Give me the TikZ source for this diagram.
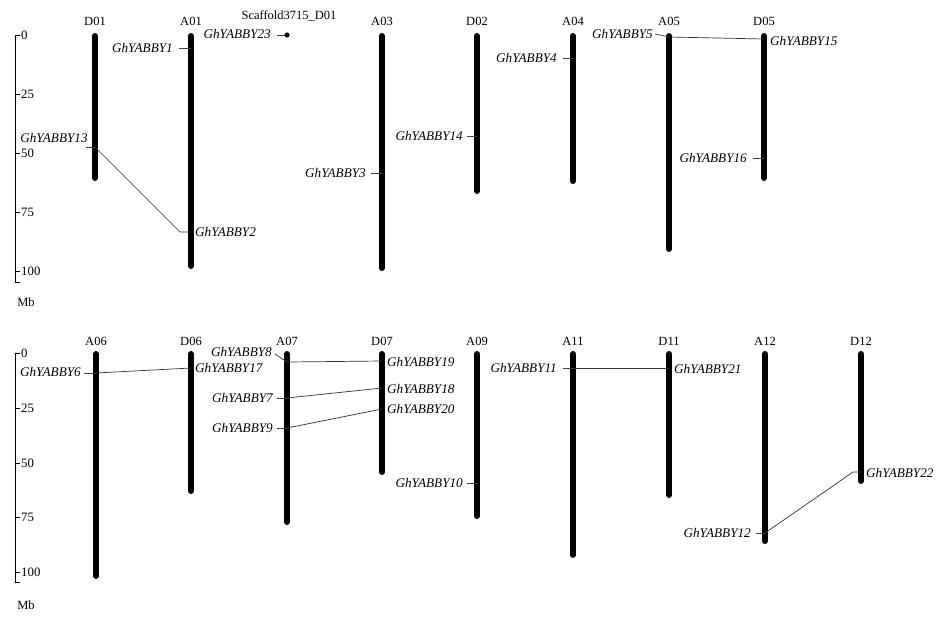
\documentclass[tikz,border=0pt]{standalone}
\usepackage{fontspec}
\setmainfont{Liberation Serif}
\begin{document}
\begin{tikzpicture}[x=1pt,y=-1pt,
  chr/.style={line width=6pt,line cap=round},
  chrlab/.style={font=\fontsize{12.5}{14}\selectfont,inner sep=0pt},
  glab/.style={font=\fontsize{13.2}{15}\selectfont\itshape,inner sep=0pt},
  tick/.style={line width=0.7pt,black!75},
  conn/.style={line width=0.7pt,black!80},
  axis/.style={line width=0.9pt},
  num/.style={font=\fontsize{12.8}{14}\selectfont,inner sep=0pt,anchor=west}]
\useasboundingbox (0,0) rectangle (940,618);
% ---------- axes ----------
\draw[axis] (20,35) -- (15,35) -- (15,282) -- (20,282);
\foreach \y/\t in {35/0,94/25,153/50,212/75,271/100}{
  \draw[axis] (15,\y) -- (20,\y);
  \node[num] at (21,\y) {\t};}
\node[chrlab] (mb1) at (26,302) {Mb};
\draw[axis] (20,353) -- (15,353) -- (15,582) -- (20,582);
\foreach \y/\t in {353/0,408/25,463/50,517/75,572/100}{
  \draw[axis] (15,\y) -- (20,\y);
  \node[num] at (21,\y) {\t};}
\node[chrlab] (mb2) at (26,605) {Mb};
% ---------- chromosomes, top ----------
\foreach \n/\x/\b in {D01/95/178,A01/191/266,A03/382/268,D02/477/191,A04/573/181,A05/669/249,D05/764/178}{
  \coordinate (\n-t) at (\x,36);
  \coordinate (\n-b) at (\x,\b);
  \draw[chr] (\n-t) -- (\n-b);
  \node[chrlab] (l\n) at (\x,21) {\n};}
% ---------- chromosomes, bottom ----------
\foreach \n/\x/\b in {A06/96/576,D06/191/491,A07/287/522,D07/382/472,A09/477/516,A11/573/555,D11/669/495,A12/765/541,D12/861/481}{
  \coordinate (\n-t) at (\x,354);
  \coordinate (\n-b) at (\x,\b);
  \draw[chr] (\n-t) -- (\n-b);
  \node[chrlab] (l\n) at (\x,341) {\n};}
% ---------- genes, top ----------
\node[glab,anchor=east] (g1) at (173,48) {GhYABBY1};
\coordinate (g1c) at (191,48);
\draw[tick] (179,48) -- (g1c);
\node[glab] (g13) at (54,138) {GhYABBY13};
\coordinate (g13a) at (86,147); \coordinate (g13c) at (95,147);
\draw[tick] (g13a) -- (g13c);
\coordinate (g2k) at (180,232); \coordinate (g2c) at (191,232);
\draw[conn] (g13c) -- (g2k) -- (g2c);
\node[glab,anchor=west] (g2) at (195,232) {GhYABBY2};
\node[glab,anchor=east] (g23) at (271,34) {GhYABBY23};
\coordinate (g23c) at (287,35);
\draw[tick] (277,35) -- (g23c);
\fill (g23c) circle (2.6);
\node[chrlab] (scf) at (289,16) {Scaffold3715\_D01};
\node[glab,anchor=east] (g3) at (366,173) {GhYABBY3};
\draw[tick] (371,173) -- (382,173);
\node[glab,anchor=east] (g14) at (463,136) {GhYABBY14};
\draw[tick] (467,136) -- (477,136);
\node[glab,anchor=east] (g4) at (557,58) {GhYABBY4};
\draw[tick] (563,58) -- (573,58);
\node[glab,anchor=east] (g5) at (653,34) {GhYABBY5};
\coordinate (g5c) at (669,37);
\draw[tick] (655,34) -- (g5c);
\coordinate (g15c) at (764,39);
\draw[conn] (g5c) -- (g15c);
\node[glab,anchor=west] (g15) at (770,41) {GhYABBY15};
\node[glab,anchor=east] (g16) at (747,158) {GhYABBY16};
\draw[tick] (753,158) -- (764,158);
% ---------- genes, bottom ----------
\node[glab,anchor=east] (g6) at (81,372) {GhYABBY6};
\coordinate (g6c) at (96,373);
\draw[tick] (84,373) -- (g6c);
\coordinate (g17c) at (191,368);
\draw[conn] (g6c) -- (g17c);
\node[glab,anchor=west] (g17) at (195,368) {GhYABBY17};
\node[glab,anchor=east] (g8) at (272,352) {GhYABBY8};
\coordinate (g8c) at (287,362);
\draw[tick] (275,354) -- (g8c);
\coordinate (g19c) at (382,361);
\draw[conn] (g8c) -- (g19c);
\node[glab,anchor=west] (g19) at (387,362) {GhYABBY19};
\node[glab,anchor=east] (g7) at (273,398) {GhYABBY7};
\coordinate (g7c) at (287,398);
\draw[tick] (277,398) -- (g7c);
\coordinate (g18c) at (382,388);
\draw[conn] (g7c) -- (g18c);
\node[glab,anchor=west] (g18) at (387,389) {GhYABBY18};
\node[glab,anchor=east] (g9) at (273,428) {GhYABBY9};
\coordinate (g9c) at (287,428);
\draw[tick] (277,428) -- (g9c);
\coordinate (g20c) at (382,409);
\draw[conn] (g9c) -- (g20c);
\node[glab,anchor=west] (g20) at (387,409) {GhYABBY20};
\node[glab,anchor=east] (g10) at (463,483) {GhYABBY10};
\draw[tick] (467,483) -- (477,483);
\node[glab,anchor=east] (g11) at (557,368) {GhYABBY11};
\coordinate (g11c) at (573,368);
\draw[tick] (563,368) -- (g11c);
\coordinate (g21c) at (669,368);
\draw[conn] (g11c) -- (g21c);
\node[glab,anchor=west] (g21) at (674,369) {GhYABBY21};
\node[glab,anchor=east] (g12) at (751,533) {GhYABBY12};
\coordinate (g12c) at (765,533);
\draw[tick] (756,533) -- (g12c);
\coordinate (g22k) at (853,472); \coordinate (g22c) at (861,472);
\draw[conn] (g12c) -- (g22k) -- (g22c);
\node[glab,anchor=west] (g22) at (866,473) {GhYABBY22};
\end{tikzpicture}
\end{document}
